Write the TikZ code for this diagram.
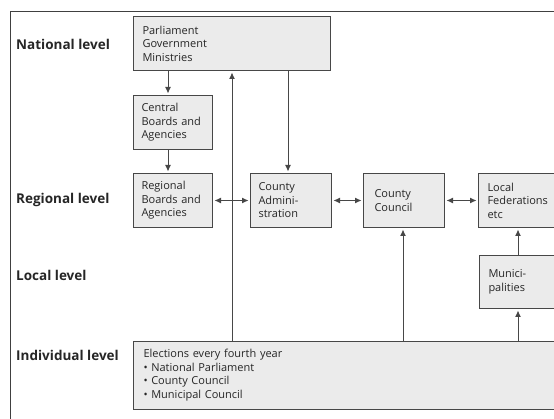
\documentclass[tikz,border=0pt]{standalone}
\usepackage{fontspec}
\setmainfont{Open Sans}
\usetikzlibrary{arrows.meta}
\begin{document}
\begin{tikzpicture}[x=1pt,y=-1pt,
  box/.style={draw=black!72, line width=1pt, fill=black!8, anchor=north west,
    align=left, inner xsep=9pt, inner ysep=0pt, text=black!85, font=\fontsize{11}{13.5}\selectfont},
  sbox/.style={box, inner xsep=8pt, text width=63pt, minimum height=54pt},
  lvl/.style={anchor=west, inner sep=0pt, font=\fontsize{13.5}{15}\selectfont\bfseries, text=black!85},
  frame/.style={draw=black!75, line width=1pt},
  arr/.style={draw=black!72, line width=1pt, -{Latex[length=6.5pt,width=6pt]}, shorten >=1.5pt},
  darr/.style={arr, {Latex[length=6.5pt,width=6pt]}-{Latex[length=6.5pt,width=6pt]}, shorten <=1.5pt}]
\useasboundingbox (0,0) rectangle (554,419);
\coordinate (fa) at (10,425);
\coordinate (fb) at (10,12);
\coordinate (fc) at (570,12);
\draw[frame] (fa) -- (fb) -- (fc);
% level labels
\node[lvl] (nat) at (16,44) {National level};
\node[lvl] (regl) at (16,200) {Regional level};
\node[lvl] (locl) at (16,275) {Local level};
\node[lvl] (indl) at (16,355) {Individual level};
% boxes
\node[box, text width=179pt, minimum height=54pt] (parl) at (133,16) {Parliament\\Government\\Ministries};
\node[sbox] (cent) at (133,95) {Central\\Boards and\\Agencies};
\node[sbox] (reg) at (133,173) {Regional\\Boards and\\Agencies};
\node[sbox, text width=65pt] (cadm) at (250,173) {County\\Admini-\\stration};
\node[sbox, inner xsep=11pt, text width=59pt] (ccou) at (363,173) {County\\Council};
\node[box, text width=70pt, minimum height=54pt] (lfed) at (478,173) {Local\\Federations\\etc};
\node[box, text width=70pt, minimum height=53pt] (muni) at (479,255) {Munici-\\palities};
\node[box, inner xsep=10pt, inner ysep=8pt, text width=417pt] (elec) at (133,341) {Elections every fourth year\\\textbullet{} National Parliament\\\textbullet{} County Council\\\textbullet{} Municipal Council};
% connectors
\coordinate (xa) at (168,0);
\coordinate (xb) at (288,0);
\coordinate (xc) at (232,0);
\coordinate (xd) at (403,0);
\coordinate (xe) at (518,0);
\draw[arr] (xa |- parl.south) -- (xa |- cent.north);
\draw[arr] (xa |- cent.south) -- (xa |- reg.north);
\draw[arr] (xb |- parl.south) -- (xb |- cadm.north);
\draw[arr] (xc |- elec.north) -- (xc |- parl.south);
\draw[darr] (reg.east) -- (cadm.west);
\draw[darr] (cadm.east) -- (ccou.west);
\draw[darr] (ccou.east) -- (lfed.west);
\draw[arr] (xd |- elec.north) -- (xd |- ccou.south);
\draw[arr] (xe |- muni.north) -- (xe |- lfed.south);
\draw[arr] (xe |- elec.north) -- (xe |- muni.south);
\end{tikzpicture}
\end{document}
